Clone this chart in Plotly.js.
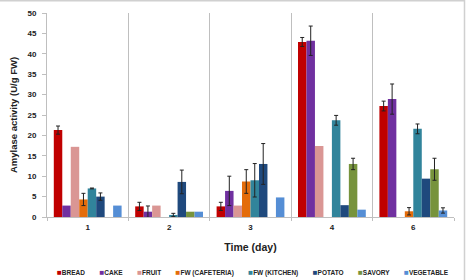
<!DOCTYPE html>
<html>
<head>
<meta charset="utf-8">
<script src="https://cdn.plot.ly/plotly-3.0.1.min.js"></script>
<style>html,body{margin:0;padding:0;background:#fff;}#chart{width:466px;height:280px;}</style>
</head>
<body>
<div id="chart"></div>
<script>
const days = ["1", "2", "3", "4", "6"];
const seriesNames = ["BREAD", "CAKE", "FRUIT", "FW (CAFETERIA)", "FW (KITCHEN)", "POTATO", "SAVORY", "VEGETABLE"];
const seriesColors = ["#C00000", "#7030A0", "#DA9694", "#E46C0A", "#31849B", "#1F497D", "#77933C", "#558ED5"];

const bread      = [21.3, 2.6, 2.6, 42.9, 27.2];
const cake       = [2.8, 1.3, 6.4, 43.2, 28.9];
const fruit      = [17.2, 2.8, 2.8, 17.4, null];
const fwCafe     = [4.3, null, 8.7, null, 1.4];
const fwKitchen  = [7.0, 0.5, 9.0, 23.7, 21.6];
const potato     = [5.0, 8.6, 13.0, 2.9, 9.4];
const savory     = [null, 1.3, null, 13.0, 11.7];
const vegetable  = [2.8, 1.3, 4.8, 1.8, 1.6];

const breadErr     = [1.0, 1.0, 1.0, 1.1, 1.2];
const cakeErr      = [0, 1.4, 3.6, 3.6, 3.7];
const fruitErr     = [0, 0, 0, 0, 0];
const fwCafeErr    = [1.5, 0, 2.9, 0, 0.9];
const fwKitchenErr = [0.1, 0.4, 4.1, 1.2, 1.2];
const potatoErr    = [0.9, 2.9, 5.0, 0, 0];
const savoryErr    = [0, 0, 0, 1.4, 2.7];
const vegetableErr = [0, 0, 0, 0, 0.65];

const values = [bread, cake, fruit, fwCafe, fwKitchen, potato, savory, vegetable];
const errors = [breadErr, cakeErr, fruitErr, fwCafeErr, fwKitchenErr, potatoErr, savoryErr, vegetableErr];

const FONT = "Liberation Sans, Arial, sans-serif";

const traces = seriesNames.map((name, i) => ({
  type: "bar",
  name: name,
  x: days,
  y: values[i],
  marker: {color: seriesColors[i], line: {width: 0}},
  error_y: {
    type: "data",
    array: errors[i].map(e => e > 0 ? e : NaN),
    visible: errors[i].some(e => e > 0),
    color: "#222222",
    thickness: 1,
    width: 2
  },
  showlegend: false
}));

const legendText = seriesNames.map((n, i) =>
  '<span style="color:' + seriesColors[i] + ';font-size:8px">■</span>' + n
).join("&nbsp;&nbsp;&nbsp;&nbsp;&nbsp;&nbsp;&nbsp;&nbsp;");

const layout = {
  width: 466,
  height: 280,
  margin: {l: 47, r: 12, t: 13, b: 63},
  paper_bgcolor: "#ffffff",
  plot_bgcolor: "#ffffff",
  barmode: "group",
  bargap: 0.167,
  bargroupgap: 0,
  showlegend: false,
  font: {family: FONT, size: 8, color: "#222222"},
  xaxis: {
    type: "category",
    tickson: "boundaries",
    showgrid: true,
    gridcolor: "#BFBFBF",
    gridwidth: 1,
    showline: true,
    linecolor: "#BFBFBF",
    linewidth: 1,
    ticks: "outside",
    ticklen: 3,
    tickcolor: "#BFBFBF",
    ticklabelstandoff: 2,
    tickfont: {family: FONT, size: 8, color: "#222222", weight: "bold"},
    title: {text: "Time (day)", font: {family: FONT, size: 10.5, color: "#222222", weight: "bold"}, standoff: 13},
    zeroline: false,
    fixedrange: true
  },
  yaxis: {
    range: [0, 50],
    dtick: 5,
    showgrid: false,
    zeroline: false,
    showline: true,
    linecolor: "#BFBFBF",
    linewidth: 1,
    ticks: "outside",
    ticklen: 4,
    tickcolor: "#BFBFBF",
    ticklabelstandoff: 4,
    tickfont: {family: FONT, size: 8, color: "#222222", weight: "bold"},
    title: {text: "Amylase activity (U/g FW)", font: {family: FONT, size: 9.5, color: "#222222", weight: "bold"}, standoff: 8},
    fixedrange: true
  },
  annotations: [{
    xref: "paper", yref: "paper",
    x: 0.505, y: -0.27,
    xanchor: "center", yanchor: "middle",
    showarrow: false,
    text: legendText,
    font: {family: FONT, size: 6.5, color: "#222222", weight: "bold"}
  }],
  shapes: [{
    type: "rect", xref: "paper", yref: "paper",
    x0: -0.2, x1: 1.0258, y0: -0.4, y1: 1.0605,
    line: {color: "#D0D0D0", width: 1.5},
    fillcolor: "rgba(0,0,0,0)",
    layer: "below"
  }]
};

Plotly.newPlot("chart", traces, layout, {displayModeBar: false, staticPlot: true});
</script>
</body>
</html>
